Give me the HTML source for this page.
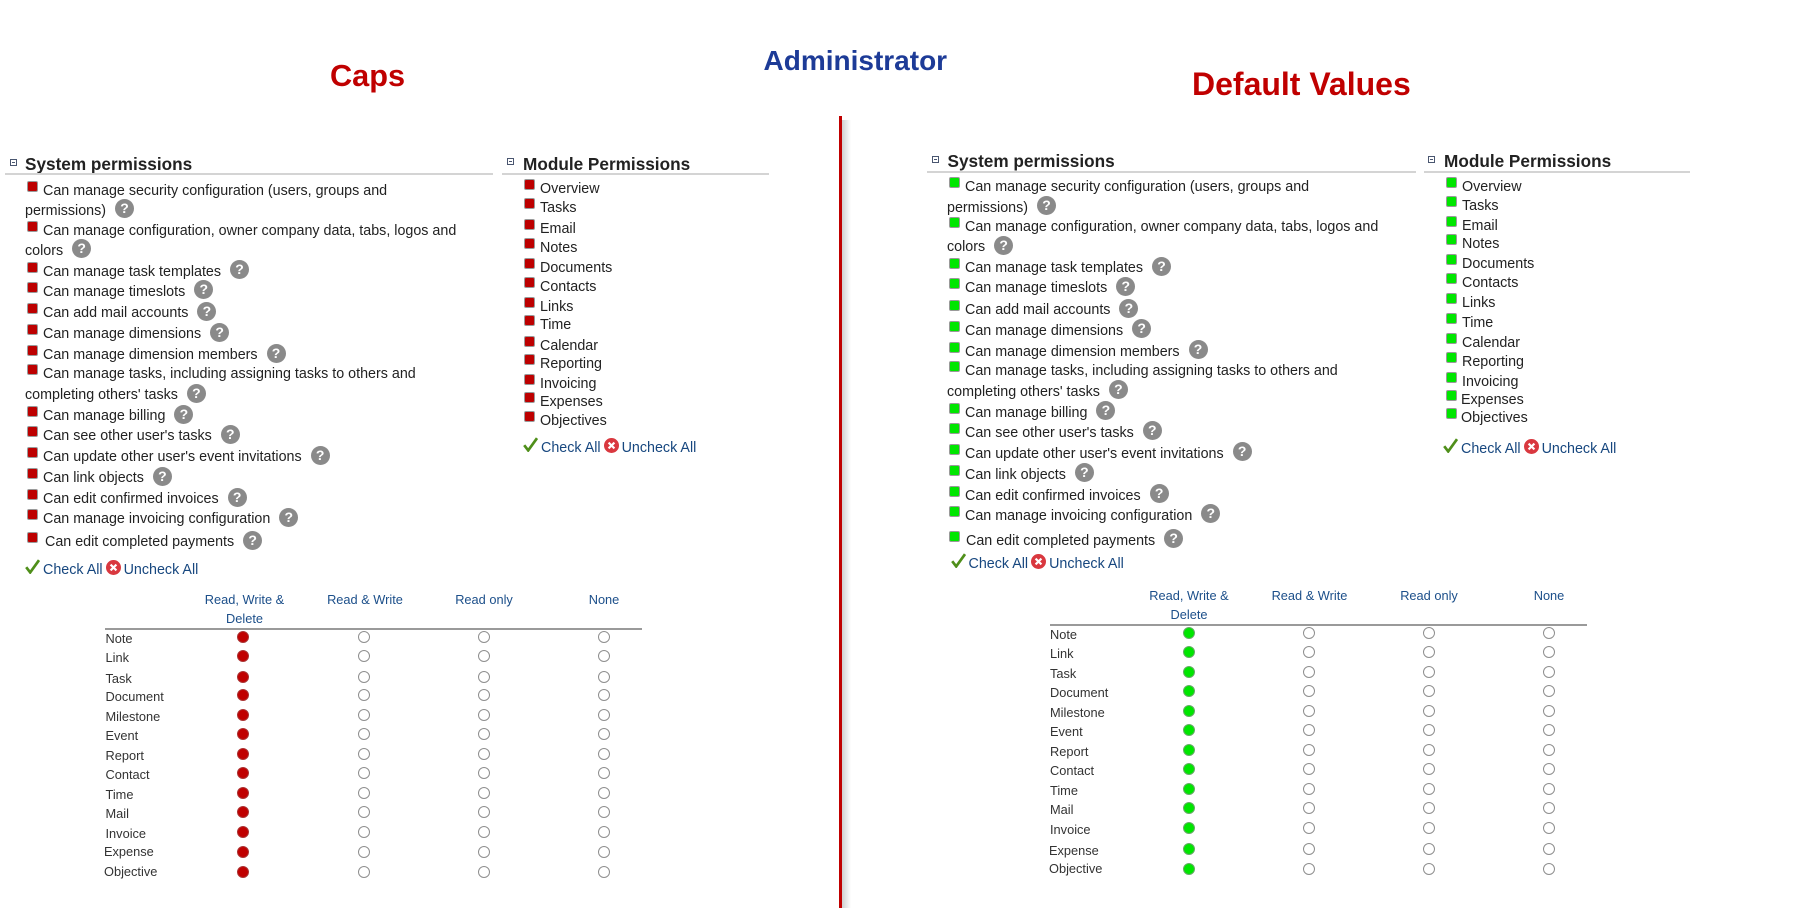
<!DOCTYPE html>
<html><head><meta charset="utf-8">
<style>
*{margin:0;padding:0;box-sizing:content-box}
html,body{width:1798px;height:908px;background:#fff;overflow:hidden}
#p{position:relative;width:1798px;height:908px;background:#fff;font-family:"Liberation Sans",Arial,sans-serif}
.t{position:absolute;font-size:14.3px;line-height:20px;color:#222;white-space:nowrap}
.b{display:inline-block;width:9px;height:9px;border:1px solid #9a9a9a;border-radius:2px;background:#bd0000;vertical-align:3px;margin-right:5px}
.g{background:#00e600}
.q{display:inline-block;width:19px;height:19px;border-radius:50%;background:#8a8a8a;color:#fff;font-weight:bold;font-size:14px;line-height:19px;text-align:center;vertical-align:middle;position:relative;top:-2px;margin-left:5px}
.lk{color:#17477f}
.ck{vertical-align:baseline;margin-right:3px}
.xx{vertical-align:-1px;margin:0 3px}
.h{position:absolute;font-size:17.2px;line-height:20px;font-weight:bold;color:#222;white-space:nowrap}
.hl{position:absolute;height:2px;background:#d4d4d4}
.cx{position:absolute;width:5px;height:5px;border:1px solid #4a5670}
.cx:after{content:"";position:absolute;left:1px;top:2px;width:3px;height:1px;background:#4a5670}
.th{position:absolute;width:120px;text-align:center;font-size:12.8px;line-height:16px;color:#1c4f8a;white-space:nowrap}
.tl{position:absolute;height:2px;background:#9a9a9a}
.row{position:absolute;left:0;width:1798px;height:12px}
.row span{position:absolute;top:0;font-size:12.8px;line-height:16px;color:#333;white-space:nowrap}
.row i{position:absolute;top:0;width:10px;height:10px;border:1px solid #8f8f8f;border-radius:50%;background:#fff}
.row i.f{background:#c00000;border-color:#a33}
.row i.fg{background:#00e600;border-color:#6a6}
.L span{left:105.5px}
.L i:nth-of-type(1){left:237px}.L i:nth-of-type(2){left:358px}.L i:nth-of-type(3){left:478px}.L i:nth-of-type(4){left:598px}
.R span{left:1050px}
.R i:nth-of-type(1){left:1183px}.R i:nth-of-type(2){left:1303px}.R i:nth-of-type(3){left:1423px}.R i:nth-of-type(4){left:1543px}
.title{position:absolute;font-weight:bold;white-space:nowrap}
</style></head><body><div id="p">

<!-- Titles -->
<div class="title" style="left:330px;top:58.4px;font-size:30.7px;line-height:36px;color:#c00000">Caps</div>
<div class="title" style="left:763.5px;top:45.3px;font-size:28px;line-height:32px;color:#1d3b97">Administrator</div>
<div class="title" style="left:1192px;top:65.9px;font-size:32px;line-height:36px;color:#c00000">Default Values</div>

<!-- Divider -->
<div style="position:absolute;left:842px;top:120px;width:9px;height:788px;background:linear-gradient(to right,#cfcfcf,#fff)"></div>
<div style="position:absolute;left:839px;top:116px;width:3px;height:792px;background:#c00000"></div>

<!-- LEFT headers -->
<div class="cx" style="left:10px;top:159px"></div>
<div class="h" style="left:25px;top:154px">System permissions</div>
<div class="hl" style="left:5px;top:173px;width:488px"></div>
<div class="cx" style="left:507px;top:158px"></div>
<div class="h" style="left:523px;top:154px">Module Permissions</div>
<div class="hl" style="left:502px;top:173px;width:267px"></div>

<!-- LEFT system permissions -->
<div class="t" style="left:27px;top:181px"><span class="b"></span>Can manage security configuration (users, groups and</div>
<div class="t" style="left:25px;top:200.7px">permissions) <span class="q">?</span></div>
<div class="t" style="left:27px;top:220.7px"><span class="b"></span>Can manage configuration, owner company data, tabs, logos and</div>
<div class="t" style="left:25px;top:240.7px">colors <span class="q">?</span></div>
<div class="t" style="left:27px;top:261.7px"><span class="b"></span>Can manage task templates <span class="q">?</span></div>
<div class="t" style="left:27px;top:281.7px"><span class="b"></span>Can manage timeslots <span class="q">?</span></div>
<div class="t" style="left:27px;top:303px"><span class="b"></span>Can add mail accounts <span class="q">?</span></div>
<div class="t" style="left:27px;top:324px"><span class="b"></span>Can manage dimensions <span class="q">?</span></div>
<div class="t" style="left:27px;top:345px"><span class="b"></span>Can manage dimension members <span class="q">?</span></div>
<div class="t" style="left:27px;top:364px"><span class="b"></span>Can manage tasks, including assigning tasks to others and</div>
<div class="t" style="left:25px;top:385px">completing others' tasks <span class="q">?</span></div>
<div class="t" style="left:27px;top:406px"><span class="b"></span>Can manage billing <span class="q">?</span></div>
<div class="t" style="left:27px;top:426px"><span class="b"></span>Can see other user's tasks <span class="q">?</span></div>
<div class="t" style="left:27px;top:447px"><span class="b"></span>Can update other user's event invitations <span class="q">?</span></div>
<div class="t" style="left:27px;top:468px"><span class="b"></span>Can link objects <span class="q">?</span></div>
<div class="t" style="left:27px;top:489px"><span class="b"></span>Can edit confirmed invoices <span class="q">?</span></div>
<div class="t" style="left:27px;top:509px"><span class="b"></span>Can manage invoicing configuration <span class="q">?</span></div>
<div class="t" style="left:27px;top:532px"><span class="b" style="margin-right:7px"></span>Can edit completed payments <span class="q">?</span></div>
<div class="t" style="left:25px;top:559px"><svg class="ck" width="15" height="15" viewBox="0 0 15 15"><path d="M1.2 8.2 L5.2 13.4 L14 1.2" stroke="#4f8f1a" stroke-width="2.7" fill="none"/></svg><span class="lk">Check All</span><svg class="xx" width="15" height="15" viewBox="0 0 15 15"><circle cx="7.5" cy="7.5" r="7.5" fill="#d9383f"/><path d="M4.6 4.6L10.4 10.4M10.4 4.6L4.6 10.4" stroke="#fff" stroke-width="2.2"/></svg><span class="lk">Uncheck All</span></div>

<!-- LEFT module permissions -->
<div class="t" style="left:524px;top:179px"><span class="b"></span>Overview</div>
<div class="t" style="left:524px;top:198px"><span class="b"></span>Tasks</div>
<div class="t" style="left:524px;top:219px"><span class="b"></span>Email</div>
<div class="t" style="left:524px;top:238px"><span class="b"></span>Notes</div>
<div class="t" style="left:524px;top:258px"><span class="b"></span>Documents</div>
<div class="t" style="left:524px;top:277px"><span class="b"></span>Contacts</div>
<div class="t" style="left:524px;top:297px"><span class="b"></span>Links</div>
<div class="t" style="left:524px;top:315px"><span class="b"></span>Time</div>
<div class="t" style="left:524px;top:336px"><span class="b"></span>Calendar</div>
<div class="t" style="left:524px;top:354px"><span class="b"></span>Reporting</div>
<div class="t" style="left:524px;top:374px"><span class="b"></span>Invoicing</div>
<div class="t" style="left:524px;top:392px"><span class="b"></span>Expenses</div>
<div class="t" style="left:524px;top:411px"><span class="b"></span>Objectives</div>
<div class="t" style="left:523px;top:437px"><svg class="ck" width="15" height="15" viewBox="0 0 15 15"><path d="M1.2 8.2 L5.2 13.4 L14 1.2" stroke="#4f8f1a" stroke-width="2.7" fill="none"/></svg><span class="lk">Check All</span><svg class="xx" width="15" height="15" viewBox="0 0 15 15"><circle cx="7.5" cy="7.5" r="7.5" fill="#d9383f"/><path d="M4.6 4.6L10.4 10.4M10.4 4.6L4.6 10.4" stroke="#fff" stroke-width="2.2"/></svg><span class="lk">Uncheck All</span></div>

<!-- LEFT table -->
<div class="th" style="left:184.5px;top:591.6px">Read, Write &amp;</div>
<div class="th" style="left:184.5px;top:611px">Delete</div>
<div class="th" style="left:305px;top:591.6px">Read &amp; Write</div>
<div class="th" style="left:424px;top:591.6px">Read only</div>
<div class="th" style="left:544px;top:591.6px">None</div>
<div class="tl" style="left:105px;top:628px;width:537px"></div>

<div class="row L" style="top:631.3px"><span>Note</span><i class="f"></i><i></i><i></i><i></i></div>
<div class="row L" style="top:650.3px"><span>Link</span><i class="f"></i><i></i><i></i><i></i></div>
<div class="row L" style="top:670.7px"><span>Task</span><i class="f"></i><i></i><i></i><i></i></div>
<div class="row L" style="top:689.3px"><span>Document</span><i class="f"></i><i></i><i></i><i></i></div>
<div class="row L" style="top:709.3px"><span>Milestone</span><i class="f"></i><i></i><i></i><i></i></div>
<div class="row L" style="top:728.3px"><span>Event</span><i class="f"></i><i></i><i></i><i></i></div>
<div class="row L" style="top:748px"><span>Report</span><i class="f"></i><i></i><i></i><i></i></div>
<div class="row L" style="top:767.3px"><span>Contact</span><i class="f"></i><i></i><i></i><i></i></div>
<div class="row L" style="top:787.3px"><span>Time</span><i class="f"></i><i></i><i></i><i></i></div>
<div class="row L" style="top:806.3px"><span>Mail</span><i class="f"></i><i></i><i></i><i></i></div>
<div class="row L" style="top:826.3px"><span>Invoice</span><i class="f"></i><i></i><i></i><i></i></div>
<div class="row L" style="top:845.7px"><span style="top:-1.5px;left:104px">Expense</span><i class="f"></i><i></i><i></i><i></i></div>
<div class="row L" style="top:865.7px"><span style="top:-2px;left:104px">Objective</span><i class="f"></i><i></i><i></i><i></i></div>

<!-- RIGHT headers -->
<div class="cx" style="left:931.5px;top:156px"></div>
<div class="h" style="left:947.5px;top:151px">System permissions</div>
<div class="hl" style="left:927px;top:171px;width:488.5px"></div>
<div class="cx" style="left:1428px;top:156px"></div>
<div class="h" style="left:1444px;top:151px">Module Permissions</div>
<div class="hl" style="left:1424px;top:171px;width:266px"></div>

<!-- RIGHT system permissions -->
<div class="t" style="left:949px;top:176.7px"><span class="b g"></span>Can manage security configuration (users, groups and</div>
<div class="t" style="left:947px;top:197.7px">permissions) <span class="q">?</span></div>
<div class="t" style="left:949px;top:216.7px"><span class="b g"></span>Can manage configuration, owner company data, tabs, logos and</div>
<div class="t" style="left:947px;top:237px">colors <span class="q">?</span></div>
<div class="t" style="left:949px;top:258px"><span class="b g"></span>Can manage task templates <span class="q">?</span></div>
<div class="t" style="left:949px;top:278px"><span class="b g"></span>Can manage timeslots <span class="q">?</span></div>
<div class="t" style="left:949px;top:300px"><span class="b g"></span>Can add mail accounts <span class="q">?</span></div>
<div class="t" style="left:949px;top:320.7px"><span class="b g"></span>Can manage dimensions <span class="q">?</span></div>
<div class="t" style="left:949px;top:341.7px"><span class="b g"></span>Can manage dimension members <span class="q">?</span></div>
<div class="t" style="left:949px;top:361px"><span class="b g"></span>Can manage tasks, including assigning tasks to others and</div>
<div class="t" style="left:947px;top:381.7px">completing others' tasks <span class="q">?</span></div>
<div class="t" style="left:949px;top:402.7px"><span class="b g"></span>Can manage billing <span class="q">?</span></div>
<div class="t" style="left:949px;top:422.7px"><span class="b g"></span>Can see other user's tasks <span class="q">?</span></div>
<div class="t" style="left:949px;top:443.7px"><span class="b g"></span>Can update other user's event invitations <span class="q">?</span></div>
<div class="t" style="left:949px;top:464.7px"><span class="b g"></span>Can link objects <span class="q">?</span></div>
<div class="t" style="left:949px;top:485.7px"><span class="b g"></span>Can edit confirmed invoices <span class="q">?</span></div>
<div class="t" style="left:949px;top:505.7px"><span class="b g"></span>Can manage invoicing configuration <span class="q">?</span></div>
<div class="t" style="left:949px;top:530.7px"><span class="b g" style="margin-right:6px"></span>Can edit completed payments <span class="q">?</span></div>
<div class="t" style="left:950.5px;top:552.7px"><svg class="ck" width="15" height="15" viewBox="0 0 15 15"><path d="M1.2 8.2 L5.2 13.4 L14 1.2" stroke="#4f8f1a" stroke-width="2.7" fill="none"/></svg><span class="lk">Check All</span><svg class="xx" width="15" height="15" viewBox="0 0 15 15"><circle cx="7.5" cy="7.5" r="7.5" fill="#d9383f"/><path d="M4.6 4.6L10.4 10.4M10.4 4.6L4.6 10.4" stroke="#fff" stroke-width="2.2"/></svg><span class="lk">Uncheck All</span></div>

<!-- RIGHT module permissions -->
<div class="t" style="left:1446px;top:176.7px"><span class="b g"></span>Overview</div>
<div class="t" style="left:1446px;top:195.7px"><span class="b g"></span>Tasks</div>
<div class="t" style="left:1446px;top:215.7px"><span class="b g"></span>Email</div>
<div class="t" style="left:1446px;top:234px"><span class="b g"></span>Notes</div>
<div class="t" style="left:1446px;top:254px"><span class="b g"></span>Documents</div>
<div class="t" style="left:1446px;top:273px"><span class="b g"></span>Contacts</div>
<div class="t" style="left:1446px;top:293.3px"><span class="b g"></span>Links</div>
<div class="t" style="left:1446px;top:312.7px"><span class="b g"></span>Time</div>
<div class="t" style="left:1446px;top:332.7px"><span class="b g"></span>Calendar</div>
<div class="t" style="left:1446px;top:351.7px"><span class="b g"></span>Reporting</div>
<div class="t" style="left:1446px;top:371.7px"><span class="b g"></span>Invoicing</div>
<div class="t" style="left:1446px;top:390px"><span class="b g" style="margin-right:4px"></span>Expenses</div>
<div class="t" style="left:1446px;top:407.7px"><span class="b g" style="margin-right:4px"></span>Objectives</div>
<div class="t" style="left:1443px;top:437.7px"><svg class="ck" width="15" height="15" viewBox="0 0 15 15"><path d="M1.2 8.2 L5.2 13.4 L14 1.2" stroke="#4f8f1a" stroke-width="2.7" fill="none"/></svg><span class="lk">Check All</span><svg class="xx" width="15" height="15" viewBox="0 0 15 15"><circle cx="7.5" cy="7.5" r="7.5" fill="#d9383f"/><path d="M4.6 4.6L10.4 10.4M10.4 4.6L4.6 10.4" stroke="#fff" stroke-width="2.2"/></svg><span class="lk">Uncheck All</span></div>

<!-- RIGHT table -->
<div class="th" style="left:1129px;top:587.6px">Read, Write &amp;</div>
<div class="th" style="left:1129px;top:606.6px">Delete</div>
<div class="th" style="left:1249.5px;top:587.6px">Read &amp; Write</div>
<div class="th" style="left:1369px;top:587.6px">Read only</div>
<div class="th" style="left:1489px;top:587.6px">None</div>
<div class="tl" style="left:1050px;top:624px;width:537px"></div>

<div class="row R" style="top:627.3px"><span>Note</span><i class="fg"></i><i></i><i></i><i></i></div>
<div class="row R" style="top:646px"><span>Link</span><i class="fg"></i><i></i><i></i><i></i></div>
<div class="row R" style="top:666.3px"><span>Task</span><i class="fg"></i><i></i><i></i><i></i></div>
<div class="row R" style="top:685px"><span>Document</span><i class="fg"></i><i></i><i></i><i></i></div>
<div class="row R" style="top:705px"><span>Milestone</span><i class="fg"></i><i></i><i></i><i></i></div>
<div class="row R" style="top:724px"><span>Event</span><i class="fg"></i><i></i><i></i><i></i></div>
<div class="row R" style="top:744.3px"><span>Report</span><i class="fg"></i><i></i><i></i><i></i></div>
<div class="row R" style="top:763.3px"><span>Contact</span><i class="fg"></i><i></i><i></i><i></i></div>
<div class="row R" style="top:783.3px"><span>Time</span><i class="fg"></i><i></i><i></i><i></i></div>
<div class="row R" style="top:802.3px"><span>Mail</span><i class="fg"></i><i></i><i></i><i></i></div>
<div class="row R" style="top:822.3px"><span>Invoice</span><i class="fg"></i><i></i><i></i><i></i></div>
<div class="row R" style="top:843px"><span style="left:1049px">Expense</span><i class="fg"></i><i></i><i></i><i></i></div>
<div class="row R" style="top:863.3px"><span style="top:-2.4px;left:1049px">Objective</span><i class="fg"></i><i></i><i></i><i></i></div>

</div></body></html>
